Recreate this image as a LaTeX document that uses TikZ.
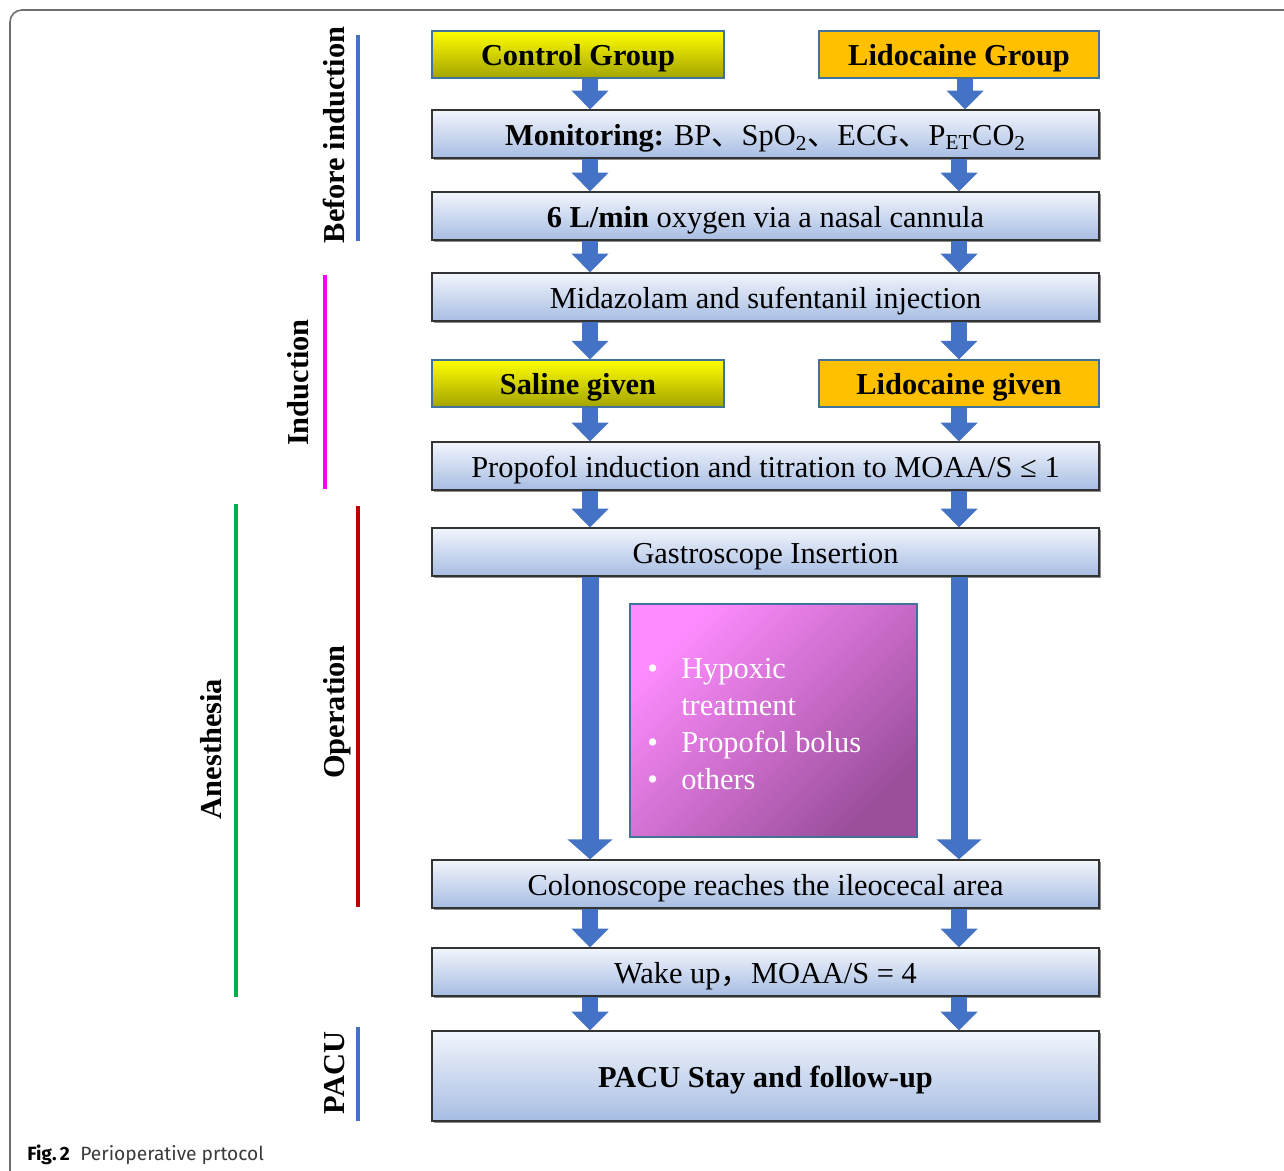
\documentclass[tikz,border=0pt]{standalone}
\usepackage{fontspec}
\setmainfont{Liberation Serif}
\newfontfamily\cjk{Noto Sans CJK SC}
\newfontfamily\capfont{Fira Sans}
\usetikzlibrary{arrows.meta,shadows}
\definecolor{arrblue}{HTML}{4472C4}
\definecolor{boxtop}{HTML}{F2F5FC}
\definecolor{boxbot}{HTML}{A7BDE3}
\definecolor{yeltop}{HTML}{FFFF00}
\definecolor{yelbot}{HTML}{A3A300}
\definecolor{orng}{HTML}{FFC000}
\definecolor{grpborder}{HTML}{41719C}
\definecolor{pinktl}{HTML}{FF8CFF}
\definecolor{pinkbr}{HTML}{9B4F9B}
\definecolor{magline}{HTML}{FF00FF}
\definecolor{grnline}{HTML}{00B050}
\definecolor{redline}{HTML}{C00000}
\definecolor{framegray}{HTML}{6E6E6E}
\definecolor{capgray}{HTML}{3A3A3A}
\newcommand\dgfont{\fontsize{22.8}{27.75}\selectfont}
\begin{document}
\begin{tikzpicture}[x=0.75pt,y=-0.75pt,
  boxtext/.style={text height=18pt, text depth=0.8pt},
  mainbox/.style={boxtext, draw=black!80, line width=1pt, top color=boxtop, bottom color=boxbot,
    minimum width=500.25pt, minimum height=36pt, inner sep=0pt, font=\dgfont,
    drop shadow={shadow xshift=1.5pt, shadow yshift=-1.8pt, fill=black, opacity=0.45}},
  yelbox/.style={boxtext, draw=grpborder, line width=0.8pt, top color=yeltop, bottom color=yelbot,
    minimum width=219pt, minimum height=35.25pt, inner sep=0pt, font=\dgfont\bfseries},
  orbox/.style={boxtext, draw=grpborder, line width=0.8pt, fill=orng,
    minimum width=210pt, minimum height=35.25pt, inner sep=0pt, font=\dgfont\bfseries},
  barrow/.style={draw=arrblue, line width=12pt, -{Triangle[width=27pt,length=14pt]}},
  longarrow/.style={draw=arrblue, line width=12.75pt, -{Triangle[width=33pt,length=15pt]}},
  sidelab/.style={font=\dgfont\bfseries, rotate=90, anchor=base, inner sep=0pt},
  phase/.style={line width=3pt}
]
\useasboundingbox (0,0) rectangle (1284,1170);
% frame
\draw[framegray, line width=1.2pt, rounded corners=9pt] (10,1175) -- (10,10) -- (1290,10);

% group boxes
\node[yelbox] (ctrl) at (578,54.5) {Control Group};
\node[orbox] (lido) at (959,54.5) {Lidocaine Group};
% main boxes
\node[mainbox] (mon) at (765.5,134) {\textbf{Monitoring:} BP{\cjk 、}SpO\textsubscript{2}{\cjk 、}ECG{\cjk 、}P\textsubscript{ET}CO\textsubscript{2}};
\node[mainbox] (oxy) at (765.5,216) {\textbf{6 L/min} oxygen via a nasal cannula};
\node[mainbox] (mida) at (765.5,297) {Midazolam and sufentanil injection};
\node[yelbox] (saline) at (578,383.5) {Saline given};
\node[orbox] (lidog) at (959,383.5) {Lidocaine given};
\node[mainbox] (prop) at (765.5,466) {Propofol induction and titration to MOAA/S ≤ 1};
\node[mainbox] (gast) at (765.5,552) {Gastroscope Insertion};
\node[mainbox] (colo) at (765.5,884) {Colonoscope reaches the ileocecal area};
\node[mainbox] (wake) at (765.5,972) {Wake up{\cjk ，}MOAA/S = 4};
\node[mainbox, minimum height=67.5pt, font=\dgfont\bfseries] (pacu) at (765.5,1076) {PACU Stay and follow-up};

% pink box
\node[draw=grpborder, line width=1pt, top color=pinktl, bottom color=pinkbr, shading angle=45,
  minimum width=215.25pt, minimum height=174.75pt, inner sep=0pt] (pink) at (773.5,720.5) {};
\node[anchor=west, text=white, font=\dgfont, align=left, inner sep=0pt] (ptxt) at (647,724)
  {\makebox[25.5pt][l]{•}Hypoxic\\\hspace*{25.5pt}treatment\\\makebox[25.5pt][l]{•}Propofol bolus\\\makebox[25.5pt][l]{•}others};

% arrows
\coordinate (L) at (590,0);
\coordinate (R) at (959,0);
\coordinate (R0) at (965,0);
\draw[barrow] (ctrl.south -| L) -- (mon.north -| L);
\draw[barrow] (lido.south -| R0) -- (mon.north -| R0);
\draw[barrow] (mon.south -| L) -- (oxy.north -| L);
\draw[barrow] (mon.south -| R) -- (oxy.north -| R);
\draw[barrow] (oxy.south -| L) -- (mida.north -| L);
\draw[barrow] (oxy.south -| R) -- (mida.north -| R);
\draw[barrow] (mida.south -| L) -- (saline.north -| L);
\draw[barrow] (mida.south -| R) -- (lidog.north -| R);
\draw[barrow] (saline.south -| L) -- (prop.north -| L);
\draw[barrow] (lidog.south -| R) -- (prop.north -| R);
\draw[barrow] (prop.south -| L) -- (gast.north -| L);
\draw[barrow] (prop.south -| R) -- (gast.north -| R);
\draw[longarrow] (gast.south -| L) -- (colo.north -| L);
\draw[longarrow] (gast.south -| R) -- (colo.north -| R);
\draw[barrow] (colo.south -| L) -- (wake.north -| L);
\draw[barrow] (colo.south -| R) -- (wake.north -| R);
\draw[barrow] (wake.south -| L) -- (pacu.north -| L);
\draw[barrow] (wake.south -| R) -- (pacu.north -| R);

% phase labels
\node[sidelab] (lbi) at (344,135) {Before induction};
\draw[phase, arrblue] (358,35) -- (358,241);
\node[sidelab] (lind) at (308,382.5) {Induction};
\draw[phase, magline] (325,275) -- (325,489);
\node[sidelab] (lan) at (221,749) {Anesthesia};
\draw[phase, grnline] (236,504) -- (236,997);
\node[sidelab] (lop) at (344,712) {Operation};
\draw[phase, redline] (358,506) -- (358,907);
\node[sidelab] (lpa) at (344,1073) {PACU};
\draw[phase, arrblue] (358,1027) -- (358,1121);

% caption
\node[anchor=base west, inner sep=0pt, font=\capfont\fontsize{14.4}{18}\selectfont] (cap) at (27,1160)
  {\textbf{Fig.\,2}\hspace{0.55em}{\color{capgray}Perioperative prtocol}};
\end{tikzpicture}
\end{document}
